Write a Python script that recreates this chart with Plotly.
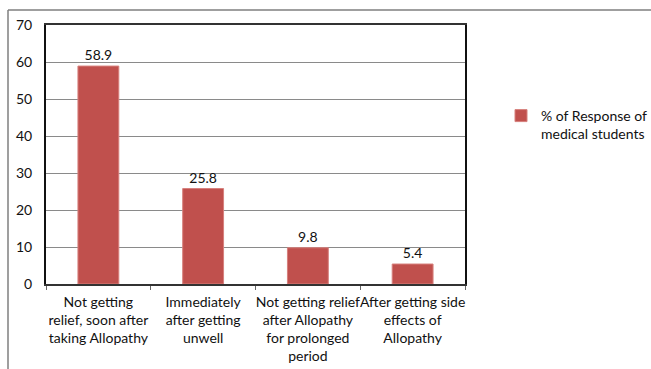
import plotly.graph_objects as go

categories = [
    "Not getting<br>relief, soon after<br>taking Allopathy",
    "Immediately<br>after getting<br>unwell",
    "Not getting relief<br>after Allopathy<br>for prolonged<br>period",
    "After getting side<br>effects of<br>Allopathy",
]
values = [58.9, 25.8, 9.8, 5.4]
series_name = "% of Response of<br>medical students"
y_ticks = [0, 10, 20, 30, 40, 50, 60, 70]

FONT = "Lato"
FS = 14
fig = go.Figure()
fig.add_trace(go.Bar(
    x=categories, y=values, name=series_name,
    marker=dict(color="#C0504D", line=dict(color="#D7807D", width=1)),
    text=[f"{v}" for v in values], textposition="outside",
    textfont=dict(family=FONT, size=FS, color="#111"),
    cliponaxis=False, width=0.39, showlegend=True,
))

W, H = 651, 369
L, R, T, B = 46, 465, 25, 284
fig.update_layout(
    width=W, height=H,
    margin=dict(l=L, r=W - R, t=T, b=H - B, autoexpand=False),
    paper_bgcolor="white", plot_bgcolor="white",
    font=dict(family=FONT, size=FS, color="#111"),
    showlegend=True,
    legend=dict(x=(501 - L) / (R - L), y=(B - 100) / (B - T), xanchor="left", yanchor="top",
                valign="top", font=dict(family=FONT, size=FS, color="#111"),
                itemwidth=30, bgcolor="rgba(0,0,0,0)"),
    xaxis=dict(showline=True, linecolor="#333", linewidth=1.5, mirror=True,
               ticks="outside", tickson="boundaries", ticklen=4, tickcolor="#666",
               tickangle=0, automargin=False, ticklabelstandoff=4,
               tickfont=dict(family=FONT, size=FS, color="#111"), fixedrange=True),
    yaxis=dict(range=[0, 70], tickvals=y_ticks, showline=True, linecolor="#111", linewidth=2,
               mirror=True, showgrid=True, gridcolor="#8a8a8a", gridwidth=1,
               ticks="", ticklabelstandoff=9, zeroline=False, automargin=False,
               tickfont=dict(family=FONT, size=FS, color="#111")),
    bargap=0.61,
)

# outer chart frame (gray)
fx = (8 - L) / (R - L)
fy_top = (B - 10) / (B - T)
fy_bot = (B - 372) / (B - T)
fx_right = (655 - L) / (R - L)
fig.add_shape(type="line", xref="paper", yref="paper", x0=fx, x1=fx, y0=fy_bot, y1=fy_top,
              line=dict(color="#7f7f7f", width=1.5))
fig.add_shape(type="line", xref="paper", yref="paper", x0=fx, x1=fx_right, y0=fy_top, y1=fy_top,
              line=dict(color="#7f7f7f", width=1.5))

fig.write_html("out.html")
